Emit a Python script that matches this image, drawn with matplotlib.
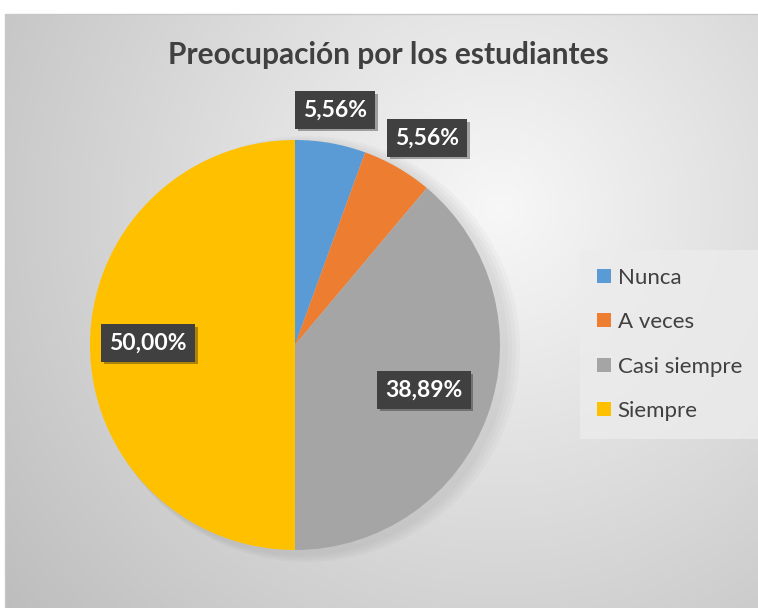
import numpy as np
import matplotlib.pyplot as plt
import matplotlib.patheffects as pe
from matplotlib.lines import Line2D

plt.rcParams['font.family'] = ['Lato', 'DejaVu Sans']

categorias = ['Nunca', 'A veces', 'Casi siempre', 'Siempre']
valores = [5.56, 5.56, 38.89, 50.00]
etiquetas = ['5,56%', '5,56%', '38,89%', '50,00%']
colores = ['#5B9BD5', '#ED7D31', '#A5A5A5', '#FFC000']

W, H = 758, 608
fig = plt.figure(figsize=(W / 100, H / 100), dpi=100)
fig.patch.set_facecolor('white')
ax = fig.add_axes([0, 0, 1, 1])

# fondo con degradado radial
xx, yy = np.meshgrid(np.linspace(5, W, 300), np.linspace(0, H - 14, 300))
d = np.sqrt((xx - 500) ** 2 + (yy - 400) ** 2) / 560
g = np.clip(0.97 - 0.2 * d, 0, 1)
ax.imshow(np.dstack([g, g, g]), extent=(5, W, 0, H - 14), origin='lower',
          aspect='auto', zorder=0)
ax.plot([5, 5, W], [0, H - 14, H - 14], color='#c8c8c8', lw=1, zorder=1)

cx, cy, r = 295, H - 345, 205
# sombra suave
for i in range(4):
    ax.add_patch(plt.Circle((cx + 6 + i * 2, cy - 4), r + 2 + i * 2,
                            color='#808080', alpha=0.05, lw=0, zorder=1))

wedges, _ = ax.pie(valores, colors=colores, startangle=90, counterclock=False,
                   center=(cx, cy), radius=r, frame=True,
                   wedgeprops=dict(linewidth=0))
for w in wedges:
    w.set_zorder(2)

pos_etiquetas = [(335, H - 110), (427, H - 138), (424, H - 390), (148, H - 343)]
for (x, y), t in zip(pos_etiquetas, etiquetas):
    txt = ax.text(x, y, t, fontsize=16.5, fontweight='bold', color='white',
                  ha='center', va='center', zorder=4,
                  bbox=dict(boxstyle='square,pad=0.35', fc='#404040', ec='none'))
    txt.get_bbox_patch().set_path_effects(
        [pe.SimplePatchShadow(offset=(2, -2), alpha=0.35), pe.Normal()])

ax.text(388, H - 55, 'Preocupación por los estudiantes', fontsize=21.5,
        fontweight='bold', color='#404040', ha='center', va='center', zorder=4)

ax.set_xlim(0, W)
ax.set_ylim(0, H)
ax.set_aspect('auto')
ax.axis('off')

handles = [Line2D([], [], marker='s', ls='none', markersize=10, color=c,
                  markeredgewidth=0) for c in colores]
leg = ax.legend(handles, categorias, loc='upper left',
                bbox_to_anchor=(580 / W, 1 - 250 / H), fontsize=16,
                frameon=True, fancybox=False, labelspacing=1.1,
                handlelength=0.6, handletextpad=0.3, borderpad=0.8,
                borderaxespad=0)
leg.get_frame().set_facecolor('#ececec')
leg.get_frame().set_edgecolor('none')
leg.get_frame().set_alpha(0.8)
for t in leg.get_texts():
    t.set_color('#404040')

fig.savefig('out.png', dpi=100, facecolor='white')
